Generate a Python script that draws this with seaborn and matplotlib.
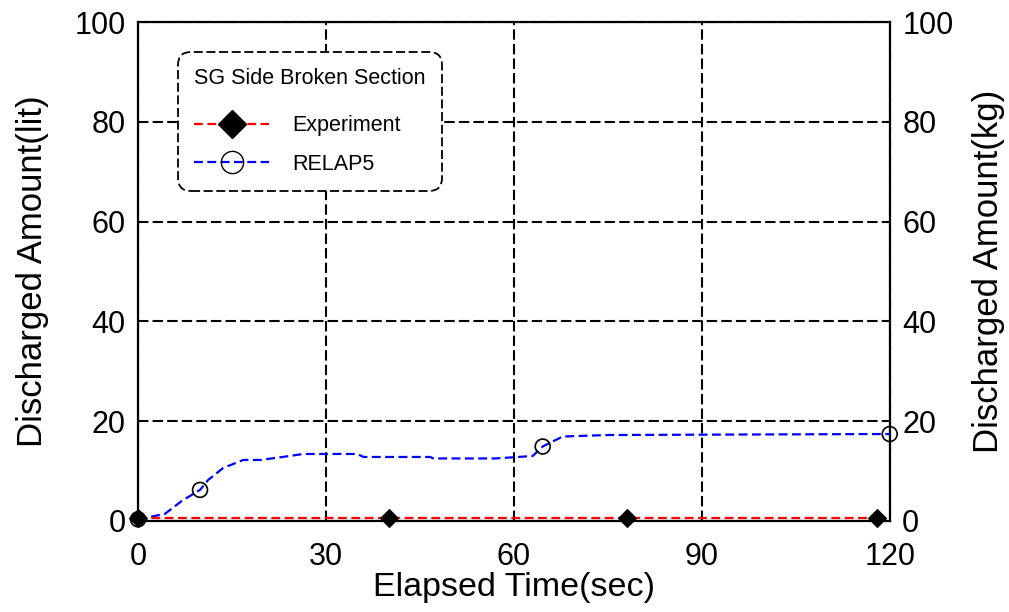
import matplotlib
matplotlib.use("Agg")
import matplotlib.pyplot as plt
import seaborn as sns
import pandas as pd
from matplotlib.lines import Line2D

# ---- data ----
exp_time = [0, 40, 78, 118]
exp_value = [0.5, 0.5, 0.5, 0.5]

relap_time = [0, 2, 4.3, 7, 9.9, 11.2, 13.6, 16.8, 19.5, 23.1, 26.4, 35, 36, 46.6,
              47.2, 57.1, 63.0, 64.6, 67.8, 74.9, 118.6, 120]
relap_value = [0.3, 0.8, 1.4, 4.0, 6.2, 8.2, 10.6, 12.2, 12.2, 12.8, 13.4, 13.4, 12.8, 12.8,
               12.5, 12.5, 13.0, 14.9, 16.9, 17.2, 17.4, 17.4]
relap_mark_time = [0, 9.9, 64.6, 120]
relap_mark_value = [0.3, 6.2, 14.9, 17.4]

x_ticks = [0, 30, 60, 90, 120]
y_ticks = [0, 20, 40, 60, 80, 100]

sns.set_theme(style="white")
plt.rcParams['font.family'] = ['Liberation Sans', 'DejaVu Sans']
plt.rcParams['text.color'] = 'black'
plt.rcParams['axes.labelcolor'] = 'black'
plt.rcParams['xtick.color'] = 'black'
plt.rcParams['ytick.color'] = 'black'

fig = plt.figure(figsize=(10.09, 6.12), dpi=100)
ax = fig.add_axes([0.1368, 0.149, 0.745, 0.815])

df_exp = pd.DataFrame({"t": exp_time, "v": exp_value})
df_rel = pd.DataFrame({"t": relap_time, "v": relap_value})
df_rm = pd.DataFrame({"t": relap_mark_time, "v": relap_mark_value})

ax.set_xlim(0, 120)
ax.set_ylim(0, 100)
ax.set_xticks(x_ticks)
ax.set_yticks(y_ticks)
ax.grid(True, color="black", linestyle=(0, (5, 2)), linewidth=1.5)
ax.set_axisbelow(True)

sns.lineplot(data=df_rel, x="t", y="v", ax=ax, color="#0000ff", linewidth=1.6,
             linestyle=(0, (4, 2)), zorder=3)
sns.scatterplot(data=df_rm, x="t", y="v", ax=ax, marker="o", s=115,
                facecolor="none", edgecolor="black", linewidth=1.2, zorder=4, clip_on=False)
sns.lineplot(data=df_exp, x="t", y="v", ax=ax, color="#ff0000", linewidth=1.6,
             linestyle=(0, (4, 2)), zorder=3)
sns.scatterplot(data=df_exp, x="t", y="v", ax=ax, marker="D", s=85,
                color="black", edgecolor="black", zorder=5, clip_on=False)

for sp in ax.spines.values():
    sp.set_visible(True)
    sp.set_color("black")
    sp.set_linewidth(1.6)

ax.tick_params(axis="y", labelsize=22, colors="black", direction="in", length=0, pad=9)
ax.tick_params(axis="x", labelsize=22, colors="black", direction="in", length=0, pad=15)
ax.set_xlabel("Elapsed Time(sec)", fontsize=24.5, labelpad=0)
ax.set_ylabel("Discharged Amount(lit)", fontsize=25, labelpad=18)

ax2 = ax.twinx()
ax2.set_ylim(0, 100)
ax2.set_yticks(y_ticks)
ax2.tick_params(axis="y", labelsize=22, colors="black", direction="in", length=0, pad=9)
ax2.set_ylabel("Discharged Amount(kg)", fontsize=25, labelpad=13)
ax2.grid(False)
for sp in ax2.spines.values():
    sp.set_visible(False)

handles = [
    Line2D([0], [0], color="#ff0000", linestyle=(0, (4, 2)), linewidth=1.6,
           marker="D", markersize=14, markerfacecolor="black", markeredgecolor="black"),
    Line2D([0], [0], color="#0000ff", linestyle=(0, (4, 2)), linewidth=1.6,
           marker="o", markersize=16, markerfacecolor="none", markeredgecolor="black"),
]
leg = ax.legend(handles, ["Experiment", "RELAP5"], title="SG Side Broken Section",
                loc="upper left", bbox_to_anchor=(0.053, 0.94), borderaxespad=0,
                fontsize=15.5, title_fontsize=15.5, frameon=True, fancybox=True,
                handlelength=3.5, handletextpad=1.05, labelspacing=0.8,
                borderpad=0.75, framealpha=1)
frame = leg.get_frame()
frame.set_edgecolor("black")
frame.set_linestyle((0, (5, 2)))
frame.set_linewidth(1.3)
frame.set_boxstyle("round", pad=0, rounding_size=0.6)
leg.set_zorder(10)
leg._legend_box.align = "left"
leg._legend_box.sep = 19

fig.savefig("out.png", dpi=100)
